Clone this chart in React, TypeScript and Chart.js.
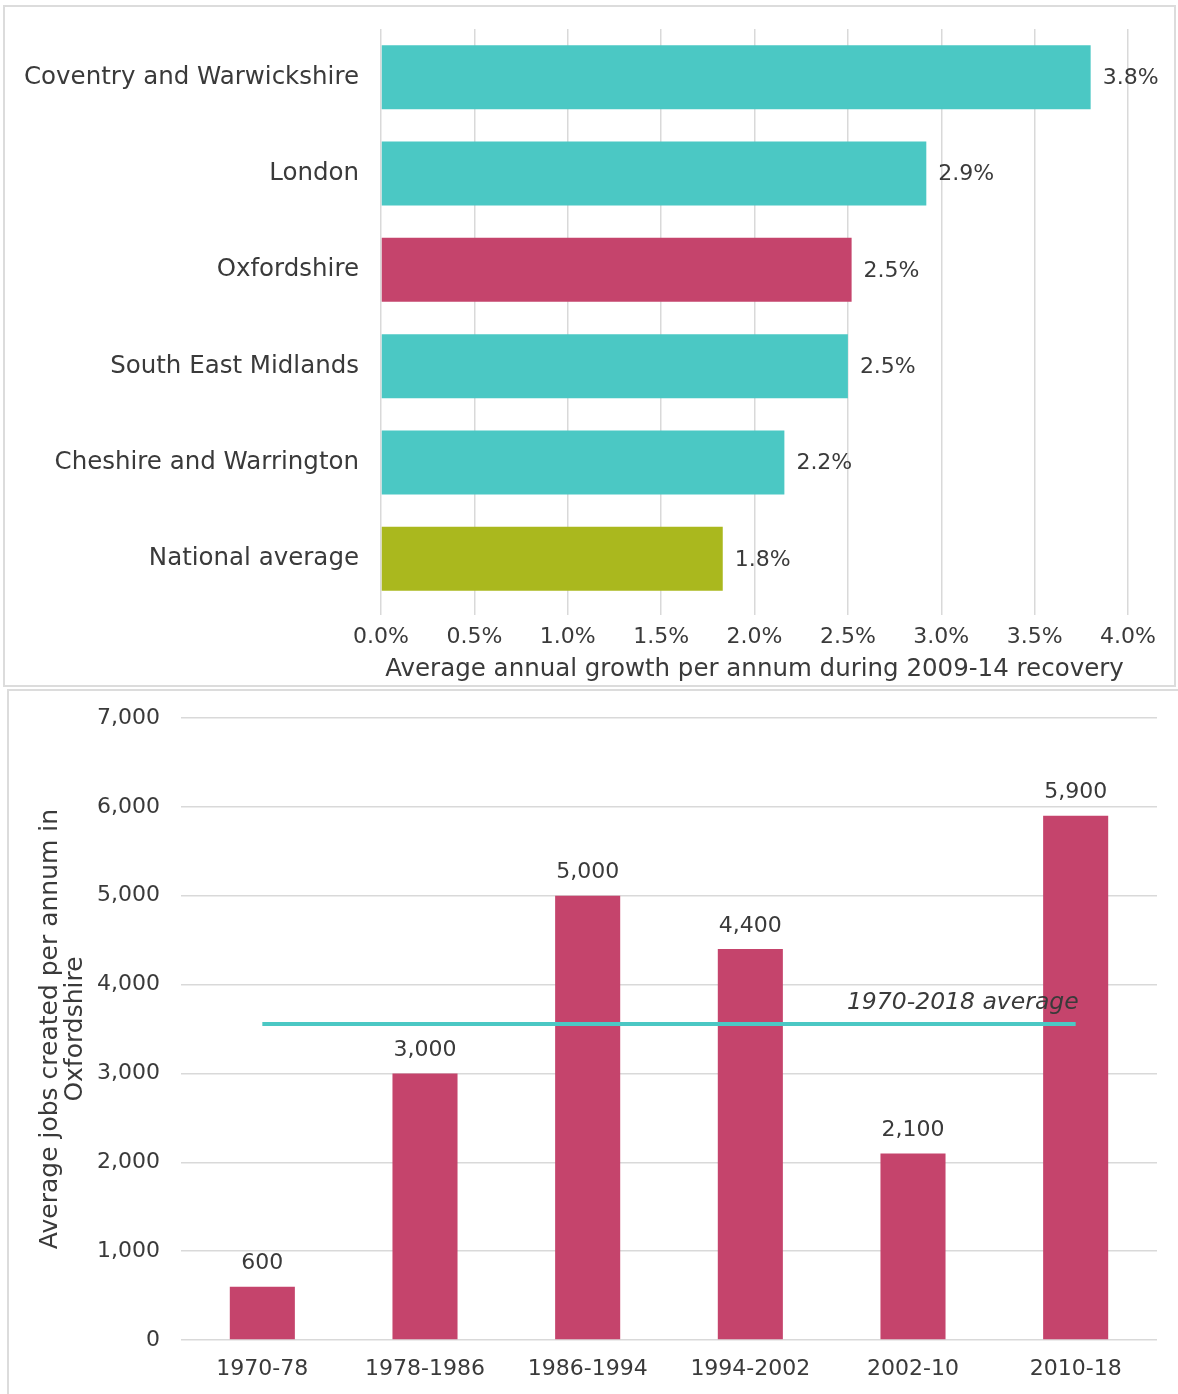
import React, { useEffect, useRef } from "react";
import { Chart, registerables } from "chart.js";

Chart.register(...registerables);

// ---------- Data: top chart ----------
const growthCategories = [
  "Coventry and Warwickshire",
  "London",
  "Oxfordshire",
  "South East Midlands",
  "Cheshire and Warrington",
  "National average",
];
const growthValues = [3.8, 2.92, 2.52, 2.5, 2.16, 1.83];
const growthKinds = ["peer", "peer", "focus", "peer", "peer", "national"];
const growthTicks = [0, 0.5, 1, 1.5, 2, 2.5, 3, 3.5, 4];
const growthAxisTitle = "Average annual growth per annum during 2009-14 recovery";

// ---------- Data: bottom chart ----------
const jobsPeriods = ["1970-78", "1978-1986", "1986-1994", "1994-2002", "2002-10", "2010-18"];
const jobsValues = [600, 3000, 5000, 4400, 2100, 5900];
const jobsAverage = 3555;
const jobsAverageLabel = "1970-2018 average";
const jobsTicks = [0, 1000, 2000, 3000, 4000, 5000, 6000, 7000];
const jobsAxisTitle = ["Average jobs created per annum in", "Oxfordshire"];

// ---------- Styles ----------
const TEAL = "#4BC8C4";
const PINK = "#C5446C";
const OLIVE = "#AAB81E";
const TEXT = "#3a3a3a";
const GRID = "#d9d9d9";
const FONT = "'DejaVu Sans', sans-serif";
const kindColor: Record<string, string> = { peer: TEAL, focus: PINK, national: OLIVE };

function ChartCanvas({ makeConfig, style }: { makeConfig: () => any; style: React.CSSProperties }) {
  const ref = useRef<HTMLCanvasElement | null>(null);
  useEffect(() => {
    if (!ref.current) return;
    const chart = new Chart(ref.current, makeConfig());
    return () => chart.destroy();
  }, []);
  return (
    <div style={{ position: "absolute", ...style }}>
      <canvas ref={ref} />
    </div>
  );
}

const fmtThousands = (v: number) => v.toLocaleString("en-GB");

function growthConfig() {
  const labelPlugin = {
    id: "growthLabels",
    afterDatasetsDraw(chart: any) {
      const ctx = chart.ctx;
      const meta = chart.getDatasetMeta(0);
      ctx.save();
      ctx.font = `22px ${FONT}`;
      ctx.fillStyle = TEXT;
      ctx.textAlign = "left";
      ctx.textBaseline = "middle";
      meta.data.forEach((bar: any, i: number) => {
        ctx.fillText(growthValues[i].toFixed(1) + "%", bar.x + 12, bar.y + 1);
      });
      ctx.restore();
    },
  };
  return {
    type: "bar",
    data: {
      labels: growthCategories,
      datasets: [
        {
          data: growthValues,
          backgroundColor: growthKinds.map((k) => kindColor[k]),
          categoryPercentage: 1,
          barPercentage: 0.665,
        },
      ],
    },
    options: {
      indexAxis: "y",
      animation: false,
      responsive: true,
      maintainAspectRatio: false,
      layout: { padding: { top: 29, right: 50, left: 0, bottom: 0 } },
      plugins: { legend: { display: false }, tooltip: { enabled: false } },
      scales: {
        x: {
          min: 0,
          max: 4,
          afterBuildTicks: (scale: any) => {
            scale.ticks = growthTicks.map((v) => ({ value: v }));
          },
          afterFit: (scale: any) => {
            scale.height = 83;
          },
          grid: { color: GRID, lineWidth: 1.5, drawTicks: true, tickLength: 8, tickColor: GRID },
          border: { display: false },
          ticks: {
            color: TEXT,
            font: { family: FONT, size: 22 },
            padding: 9,
            maxRotation: 0,
            callback: (v: any) => Number(v).toFixed(1) + "%",
          },
          title: {
            display: true,
            text: growthAxisTitle,
            color: TEXT,
            font: { family: FONT, size: 24.5 },
            padding: { top: 4, bottom: 6 },
          },
        },
        y: {
          afterFit: (scale: any) => {
            scale.width = 381;
            scale.paddingTop = 0;
            scale.paddingBottom = 0;
          },
          grid: { display: false, drawTicks: false },
          border: { display: false },
          ticks: { color: TEXT, font: { family: FONT, size: 24.5 }, padding: 22 },
        },
      },
    },
    plugins: [labelPlugin],
  };
}

function jobsConfig() {
  const labelPlugin = {
    id: "jobsLabels",
    afterDatasetsDraw(chart: any) {
      const ctx = chart.ctx;
      const meta = chart.getDatasetMeta(1);
      ctx.save();
      ctx.font = `22px ${FONT}`;
      ctx.fillStyle = TEXT;
      ctx.textAlign = "center";
      ctx.textBaseline = "middle";
      meta.data.forEach((bar: any, i: number) => {
        ctx.fillText(fmtThousands(jobsValues[i]), bar.x, bar.y - 23);
      });
      const xs = chart.scales.x;
      const ys = chart.scales.y;
      ctx.font = `italic 23.5px ${FONT}`;
      ctx.textAlign = "right";
      ctx.fillText(
        jobsAverageLabel,
        xs.getPixelForValue(jobsPeriods.length - 1) + 3,
        ys.getPixelForValue(jobsAverage) - 21
      );
      ctx.restore();
    },
  };
  return {
    type: "bar",
    data: {
      labels: jobsPeriods,
      datasets: [
        {
          type: "line",
          data: jobsPeriods.map(() => jobsAverage),
          borderColor: TEAL,
          borderWidth: 4,
          pointRadius: 0,
          order: 0,
        },
        {
          type: "bar",
          data: jobsValues,
          backgroundColor: PINK,
          categoryPercentage: 1,
          barPercentage: 0.4,
          order: 1,
        },
      ],
    },
    options: {
      animation: false,
      responsive: true,
      maintainAspectRatio: false,
      layout: { padding: { top: 25, right: 21, left: 0, bottom: 0 } },
      plugins: { legend: { display: false }, tooltip: { enabled: false } },
      scales: {
        x: {
          afterFit: (scale: any) => {
            scale.height = 54;
          },
          grid: { display: false, drawTicks: false },
          border: { display: false },
          ticks: { color: TEXT, font: { family: FONT, size: 22 }, padding: 16, maxRotation: 0 },
        },
        y: {
          min: 0,
          max: 7000,
          afterBuildTicks: (scale: any) => {
            scale.ticks = jobsTicks.map((v) => ({ value: v }));
          },
          afterFit: (scale: any) => {
            scale.width = 181;
            scale.paddingTop = 0;
            scale.paddingBottom = 0;
          },
          grid: { color: GRID, lineWidth: 1.5, drawTicks: false },
          border: { display: false },
          ticks: {
            color: TEXT,
            font: { family: FONT, size: 22 },
            padding: 21,
            callback: (v: any) => fmtThousands(Number(v)),
          },
          title: {
            display: true,
            text: jobsAxisTitle,
            color: TEXT,
            font: { family: FONT, size: 25, lineHeight: 1.0 },
            padding: { top: 38, bottom: 0 },
          },
        },
      },
    },
    plugins: [labelPlugin],
  };
}

export default function App() {
  return (
    <div
      style={{
        position: "absolute",
        left: 0,
        top: 0,
        width: 1178,
        height: 1394,
        background: "#fff",
        overflow: "hidden",
        fontFamily: FONT,
      }}
    >
      <div
        style={{
          position: "absolute",
          left: 3,
          top: 5,
          width: 1173,
          height: 682,
          border: "2px solid #dcdcdc",
          boxSizing: "border-box",
        }}
      />
      <div
        style={{
          position: "absolute",
          left: 7,
          top: 689,
          width: 1175,
          height: 710,
          border: "2px solid #dcdcdc",
          boxSizing: "border-box",
        }}
      />
      <ChartCanvas makeConfig={growthConfig} style={{ left: 0, top: 0, width: 1178, height: 690 }} />
      <ChartCanvas makeConfig={jobsConfig} style={{ left: 0, top: 693, width: 1178, height: 701 }} />
    </div>
  );
}
